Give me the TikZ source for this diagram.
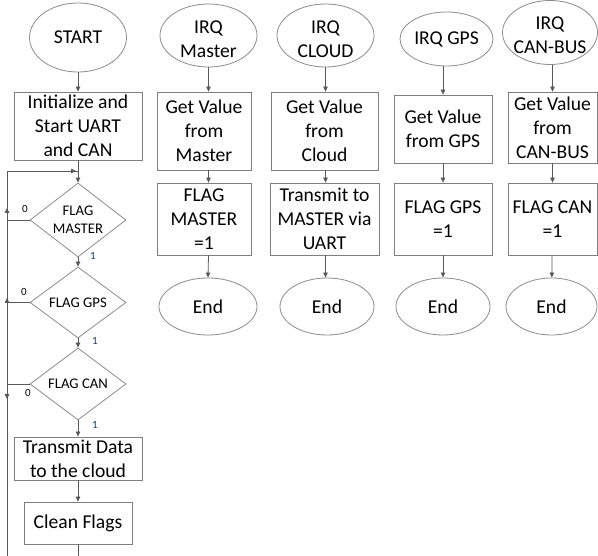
\documentclass[tikz,border=0pt]{standalone}
\usepackage{fontspec}
\setmainfont{Carlito}
\usetikzlibrary{shapes.geometric,arrows.meta}
\definecolor{lc}{HTML}{595959}
\definecolor{bc}{HTML}{7F7F7F}
\definecolor{ec}{HTML}{8C8C8C}
\definecolor{onec}{HTML}{1F3864}
\newcommand\bigfnt{\fontsize{19.6pt}{24pt}\selectfont}
\newcommand\midfnt{\fontsize{14.7pt}{18pt}\selectfont}
\newcommand\smlfnt{\fontsize{11pt}{13pt}\selectfont}
\begin{document}
\begin{tikzpicture}[x=1pt,y=-1pt,
  box/.style={draw=bc,line width=0.8pt,rectangle,inner sep=0pt,align=center,font=\bigfnt},
  oval/.style={draw=ec,line width=0.8pt,ellipse,inner sep=0pt},
  dia/.style={draw=ec,line width=0.8pt,diamond,inner sep=0pt},
  txt/.style={inner sep=0pt,align=center,font=\bigfnt},
  dtxt/.style={inner sep=0pt,align=center,font=\midfnt},
  ln/.style={draw=lc,line width=0.8pt},
  arr/.style={ln,-{Triangle[length=5pt,width=4.5pt]}},
  zero/.style={inner sep=0pt,font=\smlfnt},
  one/.style={inner sep=0pt,font=\smlfnt,text=onec}]
\useasboundingbox (0,0) rectangle (598,556);
\fill[white] (0,0) rectangle (598,556);

% ---- main loop column ----
\node[oval,minimum width=97pt,minimum height=69pt] (start) at (78,37.5) {};
\node[txt] at (start) {START};
\node[box,minimum width=128pt,minimum height=68pt] (init) at (78,126) {Initialize and\\Start UART\\and CAN};
\node[dia,minimum width=96pt,minimum height=74pt] (d1) at (78,220) {};
\node[dtxt] at (d1) {FLAG\\MASTER};
\node[dia,minimum width=96pt,minimum height=71pt] (d2) at (78,302.5) {};
\node[dtxt] at (d2) {FLAG GPS};
\node[dia,minimum width=96pt,minimum height=72pt] (d3) at (78,384) {};
\node[dtxt] at (d3) {FLAG CAN};
\node[box,minimum width=128pt,minimum height=43pt] (tx) at (78,458.5) {Transmit Data\\to the cloud};
\node[box,minimum width=108pt,minimum height=42pt] (clean) at (78,523) {Clean Flags};

\coordinate (tl) at (7,171);
\coordinate (jn) at (78,171);
\coordinate (bl) at (7,556);
\coordinate (cb) at (78,556);

\draw[arr] (start) -- (init);
\draw[arr] (init) -- (d1);
\draw[arr] (d1) -- (d2);
\draw[arr] (d2) -- (d3);
\draw[arr] (d3) -- (tx);
\draw[arr] (tx) -- (clean);
\draw[ln] (clean) -- (cb);

\draw[ln] (bl) -- (tl) -- (jn);
\draw[arr] (40,171) -- (76,171);
\draw[ln] (d1.west) -- (d1.west -| tl);
\draw[ln] (d2.west) -- (d2.west -| tl);
\draw[ln] (d3.west) -- (d3.west -| tl);
\draw[arr] (7,220) -- (7,208);
\draw[arr] (7,306) -- (7,298);
\draw[arr] (7,388) -- (7,399);

\node[zero] at (25,209) {0};
\node[zero] at (24,292) {0};
\node[zero] at (28,393) {0};
\node[one] at (93,256) {1};
\node[one] at (95,341) {1};
\node[one] at (95,425) {1};

% ---- IRQ Master ----
\node[oval,minimum width=97pt,minimum height=63pt] (irqm) at (208.5,35.5) {};
\node[txt] at (208.5,39) {IRQ\\Master};
\node[box,minimum width=94pt,minimum height=78pt] (gvm) at (204,131) {Get Value\\from\\Master};
\node[box,minimum width=94pt,minimum height=72pt] (fm) at (204,219) {FLAG\\MASTER\\=1};
\node[oval,minimum width=98pt,minimum height=57pt] (endm) at (208,306.5) {};
\node[txt] at (endm) {End};
\draw[arr] (irqm.south) -- (irqm.south |- gvm.north);
\draw[arr] (irqm.south |- gvm.south) -- (irqm.south |- fm.north);
\draw[arr] (irqm.south |- fm.south) -- (endm.north);

% ---- IRQ CLOUD ----
\node[oval,minimum width=97pt,minimum height=63pt] (irqc) at (325.5,35.5) {};
\node[txt] at (325.5,39) {IRQ\\CLOUD};
\node[box,minimum width=107pt,minimum height=78pt] (gvc) at (324.5,131) {Get Value\\from\\Cloud};
\node[box,minimum width=109pt,minimum height=72pt] (tmc) at (324.5,219) {Transmit to\\MASTER via\\UART};
\node[oval,minimum width=94pt,minimum height=57pt] (endc) at (327,306.5) {};
\node[txt] at (endc) {End};
\draw[arr] (irqc.south) -- (irqc.south |- gvc.north);
\draw[arr] (irqc.south |- gvc.south) -- (irqc.south |- tmc.north);
\draw[arr] (irqc.south |- tmc.south) -- (irqc.south |- endc.north);

% ---- IRQ GPS ----
\node[oval,minimum width=93pt,minimum height=54pt] (irqg) at (446.5,39) {};
\node[txt] at (irqg) {IRQ GPS};
\node[box,minimum width=98pt,minimum height=68pt] (gvg) at (443,129) {Get Value\\from GPS};
\node[box,minimum width=98pt,minimum height=72pt] (fg) at (443,219) {FLAG GPS\\=1};
\node[oval,minimum width=94pt,minimum height=57pt] (endg) at (443,306.5) {};
\node[txt] at (endg) {End};
\draw[arr] (gvg.north |- irqg.south) -- (gvg.north);
\draw[arr] (gvg) -- (fg);
\draw[arr] (fg) -- (endg);

% ---- IRQ CAN-BUS ----
\node[oval,minimum width=95pt,minimum height=64pt] (irqb) at (550,32.5) {};
\node[txt] at (550,35) {IRQ\\CAN-BUS};
\node[box,minimum width=89pt,minimum height=71pt] (gvb) at (552.5,127.5) {Get Value\\from\\CAN-BUS};
\node[box,minimum width=89pt,minimum height=72pt] (fb) at (552.5,219) {FLAG CAN\\=1};
\node[oval,minimum width=91pt,minimum height=57pt] (endb) at (551.5,306.5) {};
\node[txt] at (endb) {End};
\draw[arr] (gvb.north |- irqb.south) -- (gvb.north);
\draw[arr] (gvb) -- (fb);
\draw[arr] (fb) -- (endb);
\end{tikzpicture}
\end{document}
